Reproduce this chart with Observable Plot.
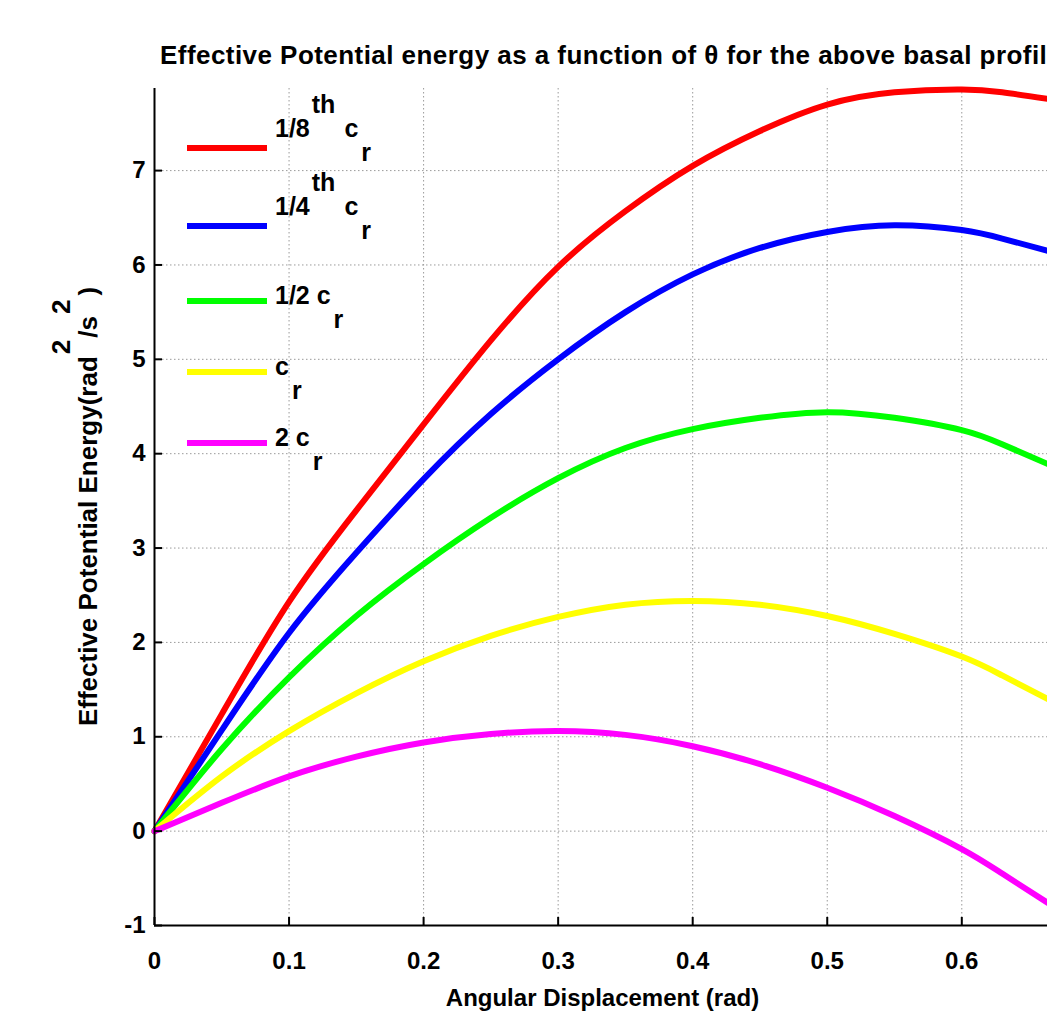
<!DOCTYPE html>
<html>
<head>
<meta charset="utf-8">
<script src="https://cdn.jsdelivr.net/npm/d3@7"></script>
<script src="https://cdn.jsdelivr.net/npm/@observablehq/plot@0.6"></script>
<style>
  html, body { margin: 0; padding: 0; background: #fff; overflow: hidden; }
  #wrap { position: relative; width: 1047px; height: 1012px; overflow: hidden; }
  #title { position: absolute; left: 160px; top: 41px; white-space: nowrap;
           font-family: "Liberation Sans", Arial, sans-serif; font-weight: bold; font-size: 26px; letter-spacing: 0.45px; line-height: 28px; color: #000; }
  svg text { font-family: "Liberation Sans", Arial, sans-serif; }
</style>
</head>
<body>
<div id="wrap">
  <div id="title"></div>
  <div id="chart"></div>
</div>
<script>
// ---- data ----
const theta = [0, 0.05, 0.1, 0.15, 0.2, 0.25, 0.3, 0.35, 0.4, 0.45, 0.5, 0.55, 0.6, 0.63, 0.664];
const eighthCr  = [0, 1.24, 2.43, 3.40, 4.31, 5.20, 5.98, 6.57, 7.05, 7.42, 7.70, 7.83, 7.86, 7.83, 7.76];
const quarterCr = [0, 1.07, 2.10, 2.95, 3.73, 4.42, 5.00, 5.50, 5.90, 6.18, 6.35, 6.42, 6.37, 6.28, 6.15];
const halfCr    = [0, 0.87, 1.63, 2.28, 2.83, 3.32, 3.74, 4.06, 4.26, 4.38, 4.44, 4.38, 4.25, 4.10, 3.89];
const oneCr     = [0, 0.58, 1.06, 1.46, 1.80, 2.07, 2.27, 2.40, 2.44, 2.40, 2.28, 2.09, 1.85, 1.65, 1.40];
const twoCr     = [0, 0.30, 0.58, 0.79, 0.94, 1.03, 1.06, 1.02, 0.90, 0.71, 0.46, 0.16, -0.19, -0.45, -0.76];

const seriesNames = ["1/8th cr", "1/4th cr", "1/2 cr", "cr", "2 cr"];
const seriesValues = [eighthCr, quarterCr, halfCr, oneCr, twoCr];
const seriesColors = ["#ff0000", "#0000ff", "#00ff00", "#ffff00", "#ff00ff"];
// legend label pieces: [text, kind]
const legendParts = [
  [["1/8", ""], ["th", "sup"], ["c", ""], ["r", "sub"]],
  [["1/4", ""], ["th", "sup"], ["c", ""], ["r", "sub"]],
  [["1/2 c", ""], ["r", "sub"]],
  [["c", ""], ["r", "sub"]],
  [["2 c", ""], ["r", "sub"]]
];
const xTicks = [0, 0.1, 0.2, 0.3, 0.4, 0.5, 0.6];
const yTicks = [-1, 0, 1, 2, 3, 4, 5, 6, 7];
const titleText = "Effective Potential energy as a function of θ for the above basal profile";
const xLabel = "Angular Displacement (rad)";

// ---- layout ----
const W = 1047, H = 1012;
const mL = 154, mR = 0, mT = 88, mB = 87;
const xDom = [0, 0.6637], yDom = [-1, 7.87];
const xPerPx = (xDom[1] - xDom[0]) / (W - mL - mR);
const yPerPx = (yDom[1] - yDom[0]) / (H - mT - mB);
const tickLen = 8;

const rows = [];
seriesNames.forEach((name, s) => {
  theta.forEach((t, i) => rows.push({series: name, x: t, y: seriesValues[s][i]}));
});

const fontStack = "'Liberation Sans', Arial, sans-serif";

const chart = Plot.plot({
  width: W, height: H,
  marginLeft: mL, marginRight: mR, marginTop: mT, marginBottom: mB,
  style: {fontFamily: fontStack, fontSize: "24px", fontWeight: "bold", color: "#000", background: "transparent", overflow: "visible"},
  x: {domain: xDom, ticks: xTicks, tickFormat: d => String(d), tickSize: 0, tickPadding: 26, label: null},
  y: {domain: yDom, ticks: yTicks, tickFormat: d => String(d), tickSize: 0, tickPadding: 9, label: null},
  color: {domain: seriesNames, range: seriesColors},
  marks: [
    Plot.ruleX(xTicks, {stroke: "#9a9a9a", strokeWidth: 1, strokeDasharray: "1.5,2.5"}),
    Plot.ruleY(yTicks, {stroke: "#9a9a9a", strokeWidth: 1, strokeDasharray: "1.5,2.5"}),
    Plot.line(rows, {x: "x", y: "y", z: "series", stroke: "series", strokeWidth: 6, curve: "natural"}),
    // inward ticks
    Plot.ruleX(xTicks, {y1: () => yDom[0], y2: () => yDom[0] + tickLen * yPerPx, stroke: "#000", strokeWidth: 2}),
    Plot.ruleY(yTicks, {x1: () => xDom[0], x2: () => xDom[0] + tickLen * xPerPx, stroke: "#000", strokeWidth: 2}),
    // axis lines
    Plot.ruleX([xDom[0]], {stroke: "#000", strokeWidth: 2}),
    Plot.ruleY([yDom[0]], {stroke: "#000", strokeWidth: 2})
  ]
});
document.getElementById("chart").appendChild(chart);
document.getElementById("title").textContent = titleText;

const svg = d3.select(chart);

// legend
const legendY = [148, 226, 301, 372, 443];
const lg = svg.append("g").attr("font-family", fontStack).attr("font-size", 25)
  .attr("font-weight", "bold").attr("text-anchor", "start");
seriesNames.forEach((name, i) => {
  const ly = legendY[i];
  lg.append("line").attr("x1", 187).attr("x2", 267).attr("y1", ly).attr("y2", ly)
    .attr("stroke", seriesColors[i]).attr("stroke-width", 6);
  const parts = legendParts[i];
  const hasSup = parts.some(p => p[1] === "sup");
  const base = hasSup ? ly - 11 : ly + 3;
  const t = lg.append("text").attr("x", 275).attr("y", base).attr("fill", "#000").attr("text-anchor", "start");
  let level = 0;
  parts.forEach(([txt, kind]) => {
    const target = kind === "sup" ? -24 : kind === "sub" ? 24 : 0;
    const ts = t.append("tspan").text(txt);
    ts.attr("dy", target - level);
    if (kind === "sup") ts.attr("dx", 2);
    else if (kind === "sub") ts.attr("dx", 3);
    else if (level !== 0) ts.attr("dx", 9);
    level = target;
  });
});

// y label
const yl = svg.append("text")
  .attr("transform", `translate(97,${(mT + (H - mB)) / 2}) rotate(-90)`)
  .attr("text-anchor", "middle").attr("font-family", fontStack)
  .attr("font-size", 26).attr("font-weight", "bold").attr("fill", "#000");
yl.append("tspan").text("Effective Potential Energy(rad");
yl.append("tspan").attr("dy", -27).attr("dx", 2).text("2");
yl.append("tspan").attr("dy", 27).attr("dx", 2).text("/s");
yl.append("tspan").attr("dy", -27).attr("dx", 2).text("2");
yl.append("tspan").attr("dy", 27).attr("dx", 4).text(")");

// x label
svg.append("text")
  .attr("x", (mL + W - mR) / 2 + 2).attr("y", 1006)
  .attr("text-anchor", "middle").attr("font-family", fontStack)
  .attr("font-size", 24).attr("font-weight", "bold").attr("fill", "#000")
  .text(xLabel);
</script>
</body>
</html>
